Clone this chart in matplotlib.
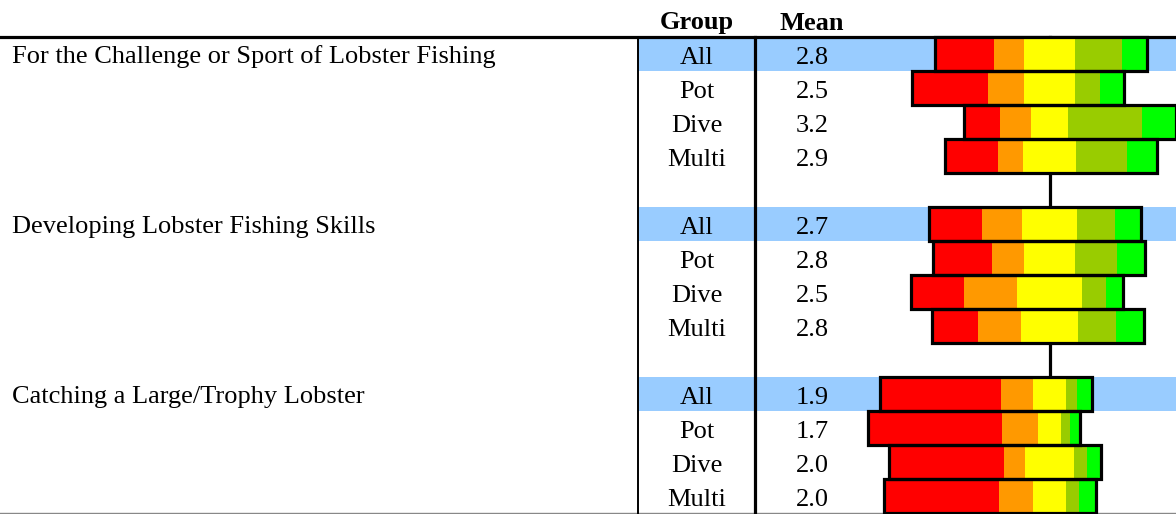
import matplotlib.pyplot as plt
import numpy as np

# data
items = ["For the Challenge or Sport of Lobster Fishing",
         "Developing Lobster Fishing Skills",
         "Catching a Large/Trophy Lobster"]
groups = ["All", "Pot", "Dive", "Multi"]
means = [[2.8, 2.5, 3.2, 2.9],
         [2.7, 2.8, 2.5, 2.8],
         [1.9, 1.7, 2.0, 2.0]]
# percent in each response category (lowest -> highest)
red    = [28, 36, 17, 25,  25, 28, 25, 22,  57, 63, 54, 54]
orange = [14, 17, 15, 12,  19, 15, 25, 20,  15, 17, 10, 16]
yellow = [24, 24, 17, 25,  26, 24, 31, 27,  16, 11, 23, 16]
olive  = [22, 12, 35, 24,  18, 20, 11, 18,   5,  4,  6,  6]
green  = [12, 11, 16, 14,  12, 13,  8, 13,   7,  5,  7,  8]
cols = ["#FF0000", "#FF9900", "#FFFF00", "#99CC00", "#00FF00"]

W, H = 1176, 514
fig = plt.figure(figsize=(W/100, H/100), dpi=100)
ax = fig.add_axes([0, 0, 1, 1])
ax.set_xlim(0, W)
row0, rowh = 54, 34
ylim = ((H - row0)/rowh, -row0/rowh)
ax.set_ylim(ylim)
ax.axis("off")

fnt = "Liberation Serif"
fs = 19
dy = 9.5/rowh  # baseline offset below row centre

# rows: 4 per item, blank row between items
ypos = []
for k in range(3):
    for j in range(4):
        ypos.append(k*5 + j)
ypos = np.array(ypos)

# header
ax.text(697, -1+dy, "Group", ha="center", va="baseline", fontsize=fs, fontweight="bold", family=fnt)
ax.text(812, -1+dy, "Mean", ha="center", va="baseline", fontsize=fs, fontweight="bold", family=fnt)

for k in range(3):
    y0 = k*5
    ax.add_patch(plt.Rectangle((638, y0-0.5), W-638, 1, color="#99CCFF", lw=0, zorder=0))
    ax.text(12, y0+dy, items[k], ha="left", va="baseline", fontsize=fs, family=fnt)
    for j in range(4):
        ax.text(697, y0+j+dy, groups[j], ha="center", va="baseline", fontsize=fs, family=fnt)
        ax.text(812, y0+j+dy, "%.1f" % means[k][j], ha="center", va="baseline", fontsize=fs, family=fnt)

ax.plot([0, W], [-0.5, -0.5], color="black", lw=2.3, zorder=3)
ax.plot([0, W], [ylim[0]-0.03, ylim[0]-0.03], color="#888888", lw=1, zorder=3)
ax.plot([638, 638], [-0.5, ylim[0]], color="black", lw=1.4, zorder=3)
ax.plot([754.5, 754.5], [-0.5, ylim[0]], color="black", lw=2.3, zorder=3)

# bars, centred on the middle of the neutral category
scale = 2.12  # px per percent
cx = 1049.5
axb = fig.add_axes([0, 0, 1, 1])
axb.set_xlim(-cx/scale, (W-cx)/scale)
axb.set_ylim(ylim)
axb.axis("off")
axb.patch.set_alpha(0)

vals = np.array([red, orange, yellow, olive, green], dtype=float)
left = -(vals[0] + vals[1] + vals[2]/2)
axb.plot([0, 0], [-0.5, ylim[0]], color="black", lw=2.3, zorder=1)
start = left.copy()
for c in range(5):
    axb.barh(ypos, vals[c], left=start, height=1.0, color=cols[c], lw=0, zorder=2)
    start = start + vals[c]
axb.barh(ypos, vals.sum(axis=0), left=left, height=1.0, fill=False,
         edgecolor="black", lw=2.3, zorder=3)

fig.savefig("out.png", dpi=100)
